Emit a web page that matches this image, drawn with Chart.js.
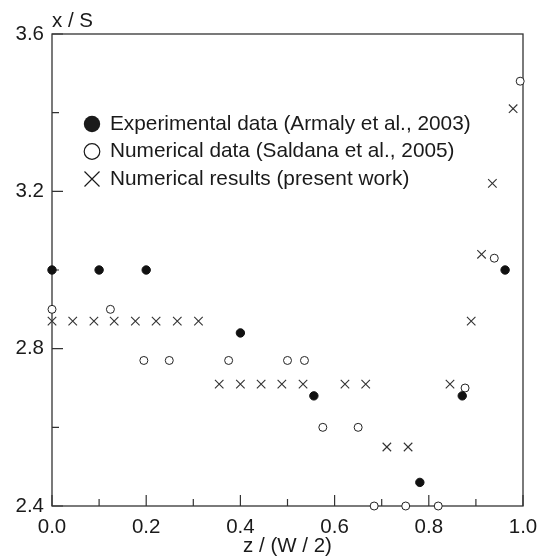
<!DOCTYPE html>
<html>
<head>
<meta charset="utf-8">
<script src="https://cdn.jsdelivr.net/npm/chart.js@4"></script>
<style>
  html, body { margin: 0; padding: 0; background: #fff; }
  #wrap { width: 548px; height: 559px; position: relative; }
</style>
</head>
<body>
<div id="wrap"><canvas id="sepChart"></canvas></div>
<script>
// Experimental data (Armaly et al., 2003)
let expZ = [0, 0.1, 0.2, 0.4, 0.556, 0.781, 0.871, 0.962];
let expY = [3.0, 3.0, 3.0, 2.84, 2.68, 2.46, 2.68, 3.0];
// Numerical data (Saldana et al., 2005)
let salZ = [0, 0.124, 0.195, 0.249, 0.375, 0.5, 0.536, 0.575, 0.65, 0.684, 0.751, 0.82, 0.877, 0.939, 0.994];
let salY = [2.90, 2.90, 2.77, 2.77, 2.77, 2.77, 2.77, 2.60, 2.60, 2.40, 2.40, 2.40, 2.70, 3.03, 3.48];
// Numerical results (present work)
let preZ = [0, 0.044, 0.089, 0.132, 0.177, 0.221, 0.266, 0.311, 0.355, 0.40, 0.444, 0.488, 0.533, 0.622, 0.666, 0.711, 0.756, 0.845, 0.89, 0.912, 0.935, 0.979];
let preY = [2.87, 2.87, 2.87, 2.87, 2.87, 2.87, 2.87, 2.87, 2.71, 2.71, 2.71, 2.71, 2.71, 2.71, 2.71, 2.55, 2.55, 2.71, 2.87, 3.04, 3.22, 3.41];

let seriesLabels = [
    'Experimental data (Armaly et al., 2003)',
    'Numerical data (Saldana et al., 2005)',
    'Numerical results (present work)'
];
let xTitle = 'z / (W / 2)';
let yTitle = 'x / S';

const FONT = '"Liberation Sans", Arial, sans-serif';
const INK = '#1a1a1a';

function toPoints(xs, ys)
{
    return xs.map(function(x, i){ return {x: x, y: ys[i]}; });
}

// box, inward ticks, y title
const framePlugin = {
    id: 'frame',
    beforeDatasetsDraw(chart) {
        const ctx = chart.ctx;
        const a = chart.chartArea;
        const xs = chart.scales.x;
        const ys = chart.scales.y;
        ctx.save();
        ctx.strokeStyle = '#333';
        ctx.lineWidth = 1.3;
        ctx.strokeRect(a.left, a.top, a.right - a.left, a.bottom - a.top);
        ctx.lineWidth = 1.2;
        ctx.beginPath();
        xs.ticks.forEach(function(t, i){
            const px = xs.getPixelForValue(t.value);
            const len = (i % 2 === 0) ? 11 : 7;
            ctx.moveTo(px, a.bottom);
            ctx.lineTo(px, a.bottom - len);
        });
        ys.ticks.forEach(function(t, i){
            const py = ys.getPixelForValue(t.value);
            const len = (i % 2 === 0) ? 11 : 7;
            ctx.moveTo(a.left, py);
            ctx.lineTo(a.left + len, py);
        });
        ctx.stroke();
        ctx.fillStyle = INK;
        ctx.font = '20.5px ' + FONT;
        ctx.textAlign = 'left';
        ctx.textBaseline = 'alphabetic';
        ctx.fillText(yTitle, a.left, 27);
        ctx.restore();
    }
};

const legendPlugin = {
    id: 'innerLegend',
    afterDraw(chart) {
        const ctx = chart.ctx;
        const rows = [124, 151.5, 179];
        const mx = 92;
        ctx.save();
        ctx.font = '20.8px ' + FONT;
        ctx.textAlign = 'left';
        ctx.textBaseline = 'middle';
        chart.data.datasets.forEach(function(ds, i){
            const y = rows[i];
            ctx.strokeStyle = INK;
            ctx.fillStyle = INK;
            ctx.lineWidth = 1.2;
            ctx.beginPath();
            if (i === 0) {
                ctx.arc(mx, y, 8.2, 0, Math.PI * 2);
                ctx.fill();
            } else if (i === 1) {
                ctx.arc(mx, y, 7.8, 0, Math.PI * 2);
                ctx.stroke();
            } else {
                ctx.moveTo(mx - 7.5, y - 7.5);
                ctx.lineTo(mx + 7.5, y + 7.5);
                ctx.moveTo(mx - 7.5, y + 7.5);
                ctx.lineTo(mx + 7.5, y - 7.5);
                ctx.stroke();
            }
            ctx.fillStyle = INK;
            ctx.fillText(ds.label, 110, y);
        });
        ctx.restore();
    }
};

let ctx1 = document.getElementById('sepChart').getContext('2d');
let myChart = new Chart(ctx1, {
    type: 'scatter',
    data: {
        datasets: [{
            label: seriesLabels[0],
            data: toPoints(expZ, expY),
            pointStyle: 'circle',
            pointRadius: 4.2,
            borderWidth: 1,
            backgroundColor: '#111',
            borderColor: '#111',
            clip: false
        },
        {
            label: seriesLabels[1],
            data: toPoints(salZ, salY),
            pointStyle: 'circle',
            pointRadius: 4,
            borderWidth: 1,
            backgroundColor: '#fff',
            borderColor: '#222',
            clip: false
        },
        {
            label: seriesLabels[2],
            data: toPoints(preZ, preY),
            pointStyle: 'crossRot',
            pointRadius: 6,
            borderWidth: 1.1,
            backgroundColor: '#333',
            borderColor: '#333',
            clip: false
        }]
    },
    options: {
        responsive: true,
        maintainAspectRatio: false,
        animation: false,
        events: [],
        layout: {
            padding: { top: 34, right: 25, left: 0, bottom: 0 }
        },
        plugins: {
            legend: { display: false },
            tooltip: { enabled: false }
        },
        scales: {
            x: {
                type: 'linear',
                min: 0,
                max: 1,
                afterFit: function(scale){ scale.height = 53; },
                grid: { display: false, drawTicks: false },
                border: { display: false },
                ticks: {
                    stepSize: 0.1,
                    padding: 9,
                    autoSkip: false,
                    maxRotation: 0,
                    color: INK,
                    font: { family: FONT, size: 20.5 },
                    callback: function(value, index){
                        return index % 2 === 0 ? Number(value).toFixed(1) : '';
                    }
                },
                title: {
                    display: true,
                    text: xTitle,
                    color: INK,
                    font: { family: FONT, size: 20.5 },
                    padding: { top: 0, bottom: 0 }
                }
            },
            y: {
                type: 'linear',
                min: 2.4,
                max: 3.6,
                afterFit: function(scale){ scale.width = 52; },
                grid: { display: false, drawTicks: false },
                border: { display: false },
                ticks: {
                    stepSize: 0.2,
                    padding: 8,
                    autoSkip: false,
                    color: INK,
                    font: { family: FONT, size: 20.5 },
                    callback: function(value, index){
                        return index % 2 === 0 ? Number(value).toFixed(1) : '';
                    }
                }
            }
        }
    },
    plugins: [framePlugin, legendPlugin]
});
</script>
</body>
</html>
